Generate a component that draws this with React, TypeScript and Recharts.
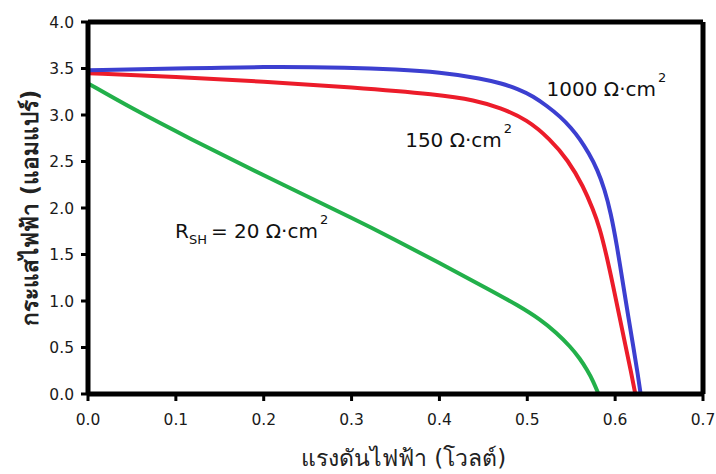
import React from "react";
import { LineChart, Line, XAxis, YAxis, ReferenceLine, ReferenceDot, Label } from "recharts";

const voltage1000 = [0, 0.1, 0.2, 0.3, 0.35, 0.4, 0.45, 0.47, 0.49, 0.507, 0.522, 0.538, 0.55, 0.56, 0.57, 0.58, 0.588, 0.595, 0.602, 0.609, 0.615, 0.621, 0.626, 0.629];
const current1000 = [3.48, 3.5, 3.52, 3.51, 3.49, 3.46, 3.39, 3.34, 3.28, 3.2, 3.1, 2.98, 2.86, 2.74, 2.59, 2.41, 2.2, 1.95, 1.6, 1.18, 0.83, 0.49, 0.2, 0];

const voltage150 = [0, 0.1, 0.2, 0.3, 0.4, 0.44, 0.469, 0.5, 0.526, 0.546, 0.564, 0.575, 0.582, 0.59, 0.598, 0.605, 0.612, 0.618, 0.623];
const current150 = [3.45, 3.41, 3.36, 3.3, 3.22, 3.16, 3.08, 2.95, 2.74, 2.52, 2.23, 1.98, 1.8, 1.5, 1.15, 0.83, 0.51, 0.24, 0];

const voltage20 = [0, 0.05, 0.113, 0.204, 0.31, 0.343, 0.4, 0.457, 0.49, 0.515, 0.533, 0.549, 0.56, 0.568, 0.575, 0.581];
const current20 = [3.34, 3.07, 2.76, 2.33, 1.85, 1.69, 1.41, 1.12, 0.95, 0.8, 0.66, 0.51, 0.38, 0.26, 0.14, 0];

const xTicks = [0, 0.1, 0.2, 0.3, 0.4, 0.5, 0.6, 0.7];
const yTicks = [0, 0.5, 1, 1.5, 2, 2.5, 3, 3.5, 4];

const xTitle = "แรงดันไฟฟ้า (โวลต์)";
const yTitle = "กระแสไฟฟ้า (แอมแปร์)";

const toPoints = (vs: number[], is: number[]) => vs.map((v, i) => ({ v, i: is[i] }));
const data1000 = toPoints(voltage1000, current1000);
const data150 = toPoints(voltage150, current150);
const data20 = toPoints(voltage20, current20);

const FONT = "'DejaVu Sans', Tahoma, Verdana, sans-serif";

const annoFont = { fontFamily: FONT, fontSize: 20, fill: "#111" } as const;

const makeLabel = (main: string, sub?: string, subAfter?: string) => (props: any) => {
  const vb = props.viewBox || {};
  const x = (vb.x ?? 0) + (vb.width ?? 0) / 2;
  const y = (vb.y ?? 0) + (vb.height ?? 0) / 2;
  if (sub) {
    return (
      <text x={x} y={y} {...annoFont}>
        <tspan>{main}</tspan>
        <tspan fontSize={13} dy={6}>{sub}</tspan>
        <tspan dy={-6} dx={4}>{subAfter}</tspan>
        <tspan fontSize={13} dy={-14} dx={2}>2</tspan>
      </text>
    );
  }
  return (
    <text x={x} y={y} {...annoFont}>
      <tspan>{main}</tspan>
      <tspan fontSize={13} dy={-14} dx={2}>2</tspan>
    </text>
  );
};

export default function App() {
  return (
    <div style={{ position: "absolute", left: 0, top: 0, background: "#fff" }}>
      <LineChart width={716} height={474} margin={{ top: 22, right: 13, left: 0, bottom: 0 }}>
        <XAxis
          type="number"
          dataKey="v"
          domain={[0, 0.7]}
          ticks={xTicks}
          tickFormatter={(t: number) => t.toFixed(1)}
          allowDataOverflow
          height={80}
          axisLine={{ stroke: "#000", strokeWidth: 5 }}
          tickLine={{ stroke: "#000", strokeWidth: 3 }}
          tickSize={7}
          tickMargin={13}
          tick={{ fill: "#1a1a1a", fontSize: 15.5, fontFamily: FONT }}
        >
          <Label
            value={xTitle}
            position="center"
            dx={8}
            dy={24}
            style={{ fontFamily: FONT, fontSize: 23, fill: "#222" }}
          />
        </XAxis>
        <YAxis
          type="number"
          dataKey="i"
          domain={[0, 4]}
          ticks={yTicks}
          tickFormatter={(t: number) => t.toFixed(1)}
          width={88}
          axisLine={{ stroke: "#000", strokeWidth: 5 }}
          tickLine={{ stroke: "#000", strokeWidth: 3 }}
          tickSize={7}
          tickMargin={7}
          tick={{ fill: "#1a1a1a", fontSize: 15.5, fontFamily: FONT }}
        >
          <Label
            value={yTitle}
            position="center"
            angle={-90}
            dx={-14}
            style={{ fontFamily: FONT, fontSize: 22.5, fontWeight: "bold", fill: "#222", textAnchor: "middle" }}
          />
        </YAxis>
        <ReferenceLine y={4} stroke="#000" strokeWidth={5} />
        <ReferenceLine x={0.7} stroke="#000" strokeWidth={5} />
        <Line data={data20} dataKey="i" type="basis" stroke="#22b04a" strokeWidth={4} dot={false} isAnimationActive={false} />
        <Line data={data150} dataKey="i" type="basis" stroke="#ec1c2a" strokeWidth={4} dot={false} isAnimationActive={false} />
        <Line data={data1000} dataKey="i" type="basis" stroke="#3c3fd0" strokeWidth={4} dot={false} isAnimationActive={false} />
        <ReferenceDot x={0.522} y={3.2} r={0} fill="none" stroke="none" label={makeLabel("1000 Ω·cm")} />
        <ReferenceDot x={0.361} y={2.66} r={0} fill="none" stroke="none" label={makeLabel("150 Ω·cm")} />
        <ReferenceDot x={0.099} y={1.68} r={0} fill="none" stroke="none" label={makeLabel("R", "SH", "= 20 Ω·cm")} />
      </LineChart>
    </div>
  );
}
